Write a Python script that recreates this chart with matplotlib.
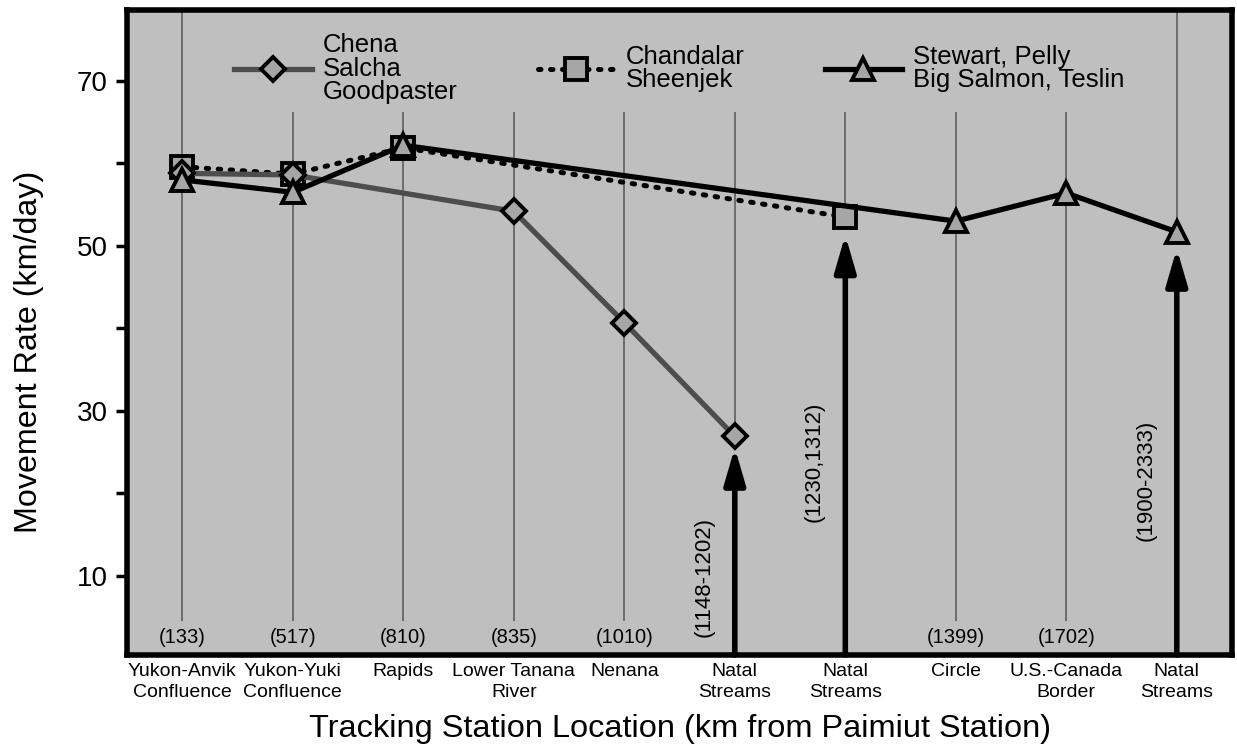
import matplotlib
matplotlib.use('Agg')
import matplotlib.pyplot as plt
import numpy as np

plt.rcParams['font.family'] = ['Liberation Sans', 'DejaVu Sans']

# Tracking stations (x axis categories)
stations = ['Yukon-Anvik\nConfluence', 'Yukon-Yuki\nConfluence', 'Rapids',
            'Lower Tanana\nRiver', 'Nenana', 'Natal\nStreams', 'Natal\nStreams',
            'Circle', 'U.S.-Canada\nBorder', 'Natal\nStreams']
km_labels = ['(133)', '(517)', '(810)', '(835)', '(1010)', '', '', '(1399)', '(1702)', '']

# Movement rates (km/day) by stock group
chena_idx = [0, 1, 3, 4, 5]
chena_rate = [58.8, 58.6, 54.2, 40.7, 26.9]
chandalar_idx = [0, 1, 2, 6]
chandalar_rate = [59.6, 58.7, 61.9, 53.5]
stewart_idx = [0, 1, 2, 7, 8, 9]
stewart_rate = [58.0, 56.5, 62.2, 53.0, 56.4, 51.7]

# Natal stream arrows: station, rate reached, km range label
natal_idx = [5, 6, 9]
natal_rate = [26.9, 53.5, 51.7]
natal_labels = ['(1148-1202)', '(1230,1312)', '(1900-2333)']

fig = plt.figure(figsize=(12.37, 7.51), dpi=100)
ax = fig.add_axes([0.1027, 0.1278, 0.8933, 0.8589])
ax.set_facecolor('#bfbfbf')
ax.set_xlim(-0.5, 9.5)
ax.set_ylim(0.4, 78.6)

# thin station lines
x = np.arange(len(stations))
y_low = np.full(len(stations), 4.5)
y_high = np.full(len(stations), 66.2)
y_high[0] = 78.6
y_high[-1] = 78.6
for i, r in zip(natal_idx, natal_rate):
    y_low[i] = r
ax.vlines(x, y_low, y_high, color='#555555', lw=1.1, zorder=1)

mfill = '#a6a6a6'
l_chand, = ax.plot(chandalar_idx, chandalar_rate, color='black', lw=3.6,
                   linestyle=(0, (0.5, 1.9)), dash_capstyle='round',
                   marker='s', ms=16, mfc=mfill, mec='black', mew=2.8, zorder=3,
                   label='Chandalar\nSheenjek')
l_chena, = ax.plot(chena_idx, chena_rate, color='#4d4d4d', lw=3.8,
                   marker='D', ms=12, mfc=mfill, mec='black', mew=2.8, zorder=4,
                   label='Chena\nSalcha\nGoodpaster')
l_stew, = ax.plot(stewart_idx, stewart_rate, color='black', lw=3.8,
                  marker='^', ms=16, mfc=mfill, mec='black', mew=2.8, zorder=5,
                  label='Stewart, Pelly\nBig Salmon, Teslin')

# arrows to natal streams
shrinks = [8, 13, 12]
for i, r, s in zip(natal_idx, natal_rate, shrinks):
    ax.annotate('', xy=(i, r), xytext=(i, 0.4), zorder=6,
                arrowprops=dict(arrowstyle='-|>,head_length=1.1,head_width=0.32',
                                mutation_scale=20, lw=4, color='black',
                                shrinkA=0, shrinkB=s))

natal_text_pos = [9.8, 23.8, 21.6]
for i, lab, yy in zip(natal_idx, natal_labels, natal_text_pos):
    ax.text(i - 0.28, yy, lab, rotation=90, ha='center', va='center', fontsize=16)

for i, lab in enumerate(km_labels):
    if lab:
        ax.text(i, 2.5, lab, ha='center', va='center', fontsize=14.5)

ax.set_xticks(x)
ax.set_xticklabels(stations, fontsize=14, linespacing=1.3)
ax.tick_params(axis='x', length=0, pad=6)

ax.set_yticks([10, 20, 30, 40, 50, 60, 70])
ax.set_yticklabels(['10', '', '30', '', '50', '', '70'], fontsize=20)
ax.tick_params(axis='y', length=8, width=2.5, direction='out', pad=6)

for sp in ax.spines.values():
    sp.set_linewidth(4)

ax.set_ylabel('Movement Rate (km/day)', fontsize=23.2, va='center')
ax.yaxis.set_label_coords(-0.0887, 0.47)
ax.set_xlabel('Tracking Station Location (km from Paimiut Station)', fontsize=23.4,
              va='baseline')
ax.xaxis.set_label_coords(0.5, -0.127)

ax.legend(handles=[l_chena, l_chand, l_stew], loc='upper center', ncol=3,
          frameon=False, fontsize=18.5, handlelength=3.0, handletextpad=0.45,
          columnspacing=3.1, borderaxespad=0.5, labelspacing=0.2)
for t in ax.get_legend().get_texts():
    t.set_linespacing(0.97)

fig.savefig('out.png', dpi=100)
